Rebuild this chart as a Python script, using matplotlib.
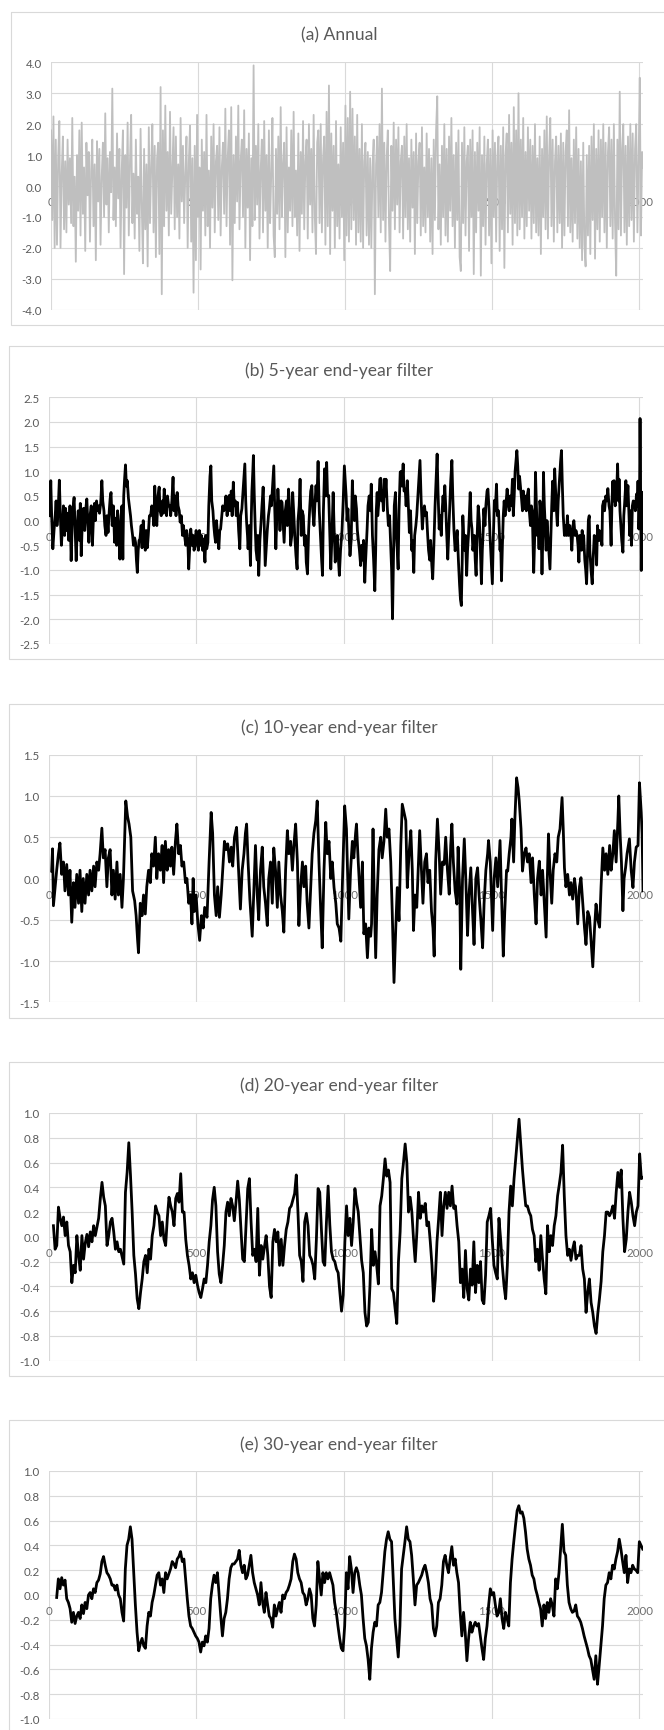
import numpy as np
import matplotlib
matplotlib.use("Agg")
import matplotlib.pyplot as plt
from matplotlib.patches import Rectangle

plt.rcParams['font.family'] = ['Lato', 'DejaVu Sans']

# ---------------- data ----------------
titles = ['(a) Annual', '(b) 5-year end-year filter', '(c) 10-year end-year filter',
          '(d) 20-year end-year filter', '(e) 30-year end-year filter']
x_tick_values = [0, 500, 1000, 1500, 2000]

# (a) annual values, one every 4 years starting at year 1
annual_years = np.arange(1, 2017, 4)
annual_vals = [
 1.8, -1.1, 2.25, -2.0, 1.5, -1.9, 0.9, 2.1, -2.0, 0.4, 1.6, -1.4,
 0.8, -1.5, 1.5, -0.6, 0.9, -1.2, 2.2, -1.3, 0.3, -2.45, 1.0, -0.8,
 1.8, -1.6, 2.05, -0.9, 0.6, -2.1, 1.4, -0.3, 1.1, -1.8, 0.5, 1.5,
 -1.3, 0.7, -2.4, 1.45, -0.5, 1.2, -1.9, 0.3, 1.4, -1.0, 2.35, -0.6,
 0.9, -1.5, 1.1, -0.2, 3.15, -1.1, 0.6, -1.3, 1.7, -0.4, 1.2, -2.0,
 0.5, 1.8, -2.85, 1.0, -0.7, 2.05, -1.6, 0.8, 2.3, -1.2, 0.4, -1.7,
 1.5, -0.9, 0.3, -2.1, 1.85, -0.6, -2.5, 1.2, -1.4, 0.7, -2.6, 1.9,
 -1.2, 0.6, 2.0, -1.5, 1.3, -2.3, 0.9, 1.4, -2.2, 3.2, -3.5, 1.8,
 -1.3, 2.6, -0.8, 1.1, -1.6, 2.4, -0.9, 0.5, 1.9, -1.4, 1.6, -1.0,
 0.7, -1.7, 2.2, -0.5, 1.3, -1.2, 0.4, 1.6, -2.0, 0.8, 1.95, -1.8,
 0.9, -3.45, 1.3, -2.4, 2.3, -1.0, 0.6, -2.7, 1.5, -0.8, 1.1, -1.6,
 2.3, -1.3, 0.5, -2.0, 1.6, -0.7, 2.0, -1.5, 0.8, 1.3, -1.1, 1.9,
 -1.6, 0.6, 1.4, -0.9, 2.5, -1.3, 0.9, 1.8, -1.9, 2.55, -3.05, 1.0,
 -1.2, 1.6, -0.5, 2.6, -1.4, 0.8, 1.5, -1.0, 2.45, -2.0, 1.2, -0.7,
 1.7, -2.4, 0.9, -1.3, 3.9, -1.1, 1.3, -0.6, 2.0, -1.7, 0.5, 1.5,
 -1.5, 2.1, -0.8, 1.0, -2.0, 1.8, -1.2, 0.4, 2.2, -1.6, -2.3, 1.2,
 -0.9, 1.6, -1.4, 2.55, -1.0, 0.7, 1.4, -2.3, 1.9, -1.5, 0.6, -0.8,
 1.8, -1.3, 2.4, -1.0, 0.5, -1.6, 1.7, -2.1, 1.1, -0.9, 2.1, -1.4,
 0.8, 1.5, -1.7, 2.0, -0.6, 1.2, -1.5, 2.3, -1.0, -2.2, 1.4, 1.8,
 -1.2, 2.0, -1.5, 0.9, 1.6, -1.9, 2.4, -1.3, 3.25, -2.2, 1.7, -0.8,
 1.3, -2.0, 2.1, -1.3, 0.7, -1.7, 1.9, -1.0, 1.4, -2.4, 2.6, -1.6,
 2.2, -1.8, 3.05, -1.4, 2.5, -1.1, 1.6, -1.9, 2.3, -1.5, 1.2, -1.8,
 2.0, -2.0, 0.8, 1.4, -1.6, 1.1, -1.9, 0.9, -2.0, 0.6, 1.5, -3.5,
 0.7, 1.6, -1.0, 2.0, -1.5, 3.15, -1.1, 1.4, -1.8, 0.9, 1.8, -1.2,
 -2.75, 1.3, -0.8, 2.05, -1.4, 1.5, -0.6, 1.9, -1.5, 0.8, 1.3, -1.7,
 1.6, -1.0, 2.0, -1.4, 0.9, -1.8, 1.5, -0.7, 1.1, -2.2, 1.7, -1.2,
 0.8, 1.4, -1.6, 1.9, -1.3, 0.6, -1.5, 1.7, -1.0, 1.2, -1.8, 0.9,
 -2.2, 1.5, -1.1, 1.8, 2.9, -1.4, 0.7, -1.9, 1.3, -1.0, 2.0, -1.6,
 1.2, -1.8, 1.6, -0.8, 2.2, -1.3, 1.0, -2.0, 1.4, -1.1, 1.8, -2.3,
 -2.75, 1.4, -1.2, 1.9, -1.6, 0.8, 1.3, -2.1, 1.5, -1.0, 1.8, -2.85,
 1.1, -1.5, 1.4, -0.8, 1.9, -2.9, 1.0, -1.3, 1.6, -1.9, 0.7, 1.5,
 -1.6, 1.2, -2.5, 1.8, -1.0, 1.4, -1.8, 0.9, 1.6, -2.1, 1.3, -1.4,
 1.9, -2.65, 1.0, 1.7, -1.5, 2.3, -0.9, 1.4, -1.9, 2.55, -1.2, 1.8,
 -1.6, 3.0, -1.4, 1.5, -1.0, 2.2, -1.7, 1.1, -1.3, 1.9, -0.8, 1.5,
 -1.7, 1.3, -1.2, 2.0, -1.5, 0.9, -1.6, 1.6, -2.2, 1.2, -1.0, 1.8,
 -1.4, 2.25, -1.7, 1.0, 2.2, -1.3, 1.5, -1.8, 0.8, 1.6, -1.5, 1.3,
 -1.2, 1.7, -2.0, 1.4, -1.6, 1.1, 1.8, -1.3, 2.45, -1.5, 0.9, -1.8,
 1.5, -1.2, 1.9, -1.7, 1.2, -2.0, 0.8, -2.4, 1.4, -1.9, -2.6, 1.0,
 -1.6, 1.3, -2.2, 1.6, -1.1, 2.0, -2.35, 1.2, -1.4, 1.8, -1.8, 1.5,
 -1.0, 2.0, -1.5, 1.4, -2.0, 1.1, 1.9, -1.3, 1.5, -1.7, 2.0, -1.2,
 -2.9, 1.5, -1.4, 3.05, -1.6, 1.2, 2.0, -1.5, 1.3, -1.9, 1.6, -1.3,
 2.0, -1.1, 1.7, -1.8, 1.2, 2.0, -1.5, 0.8, 3.5, -1.6, 1.1, 0.6,
]

# (b) 5-year filter: (year, value)
filter5 = [
 (4,0.10),(7,0.81),(10,0.10),(14,-0.57),(18,-0.20),(22,0.10),(25,0.40),(28,-0.10),(32,0.20),(36,0.82),
 (40,0.00),(43,-0.50),(47,-0.10),(50,0.30),(54,-0.30),(57,0.25),(61,-0.20),(65,0.15),(68,-0.40),(72,0.30),
 (76,-0.81),(80,0.00),(83,0.30),(86,0.47),(90,-0.30),(93,-0.81),(97,-0.10),(100,0.20),(104,-0.40),(107,0.35),
 (110,-0.71),(114,0.00),(118,0.25),(122,-0.20),(125,0.20),(129,0.44),(133,-0.10),(136,-0.44),(140,0.10),(144,0.30),
 (148,-0.50),(152,0.15),(155,0.35),(158,0.00),(162,0.40),(165,0.20),(169,0.30),(172,0.15),(176,0.35),(180,0.81),
 (183,0.40),(187,0.20),(190,-0.10),(194,-0.30),(197,0.10),(201,-0.24),(205,0.20),(208,0.45),(211,0.57),(215,-0.10),
 (219,0.30),(223,-0.44),(226,0.05),(230,-0.50),(233,0.20),(237,-0.20),(241,-0.78),(245,0.10),(248,0.30),(251,-0.78),
 (254,0.50),(257,0.85),(260,1.13),(263,0.70),(266,0.81),(270,0.45),(273,0.30),(277,0.10),(280,-0.10),(284,-0.30),
 (287,-0.50),(291,-0.35),(294,-0.44),(297,-0.80),(300,-1.05),(303,-0.60),(306,-0.40),(309,-0.37),(313,-0.10),(316,-0.55),
 (320,0.00),(323,-0.30),(327,-0.60),(330,-0.20),(334,-0.55),(337,-0.30),(341,0.10),(345,0.10),(349,0.30),(352,0.20),
 (356,-0.10),(359,0.70),(363,0.10),(366,-0.10),(370,0.50),(374,0.68),(377,0.20),(381,0.10),(385,0.40),(388,0.15),
 (391,0.64),(395,0.25),(399,0.10),(402,0.50),(406,0.30),(410,0.30),(413,0.10),(417,0.40),(421,0.88),(424,0.20),
 (428,0.50),(431,0.10),(435,0.57),(438,0.30),(442,0.20),(445,-0.03),(449,0.10),(453,-0.30),(456,-0.10),(460,-0.30),
 (464,-0.50),(467,-0.20),(471,-0.40),(474,-0.98),(477,-0.60),(481,-0.17),(485,-0.50),(489,-0.30),(492,-0.60),(496,-0.51),
 (499,-0.20),(503,-0.37),(507,-0.60),(510,-0.20),(514,-0.50),(517,-0.30),(521,-0.60),(524,-0.37),(529,-0.84),(532,-0.30),
 (535,-0.57),(539,-0.44),(542,0.30),(546,0.90),(549,1.11),(552,0.40),(556,0.20),(559,-0.10),(562,-0.30),(565,-0.44),
 (568,0.00),(572,-0.30),(576,-0.57),(579,-0.20),(582,-0.17),(586,0.10),(589,0.30),(593,0.20),(596,0.24),(600,0.50),
 (604,0.10),(607,0.40),(611,0.51),(614,0.20),(618,0.60),(621,0.10),(625,0.78),(628,0.30),(632,0.40),(635,0.10),
 (639,0.37),(643,-0.20),(647,-0.57),(650,0.10),(654,0.24),(658,0.60),(661,0.90),(664,1.15),(667,0.40),(670,-0.03),
 (673,-0.30),(675,-0.57),(679,-0.10),(683,-0.91),(686,0.10),(688,0.60),(691,1.00),(693,1.32),(696,0.50),(699,-0.10),
 (702,-0.60),(706,-0.80),(708,-0.30),(711,-1.11),(715,-0.40),(719,-0.03),(722,0.30),(726,0.68),(729,0.10),(733,-0.91),
 (737,-0.50),(740,-0.20),(744,0.10),(747,0.24),(751,0.50),(754,0.30),(758,0.70),(762,1.11),(765,0.30),(769,-0.57),
 (772,0.00),(776,0.64),(780,0.20),(783,-0.20),(787,0.40),(790,0.37),(794,-0.10),(797,-0.44),(801,0.20),(805,0.40),
 (808,-0.10),(812,0.64),(816,0.20),(819,-0.50),(823,-0.30),(826,0.57),(830,0.10),(833,-0.30),(837,-0.70),(841,-0.98),
 (844,0.00),(848,0.30),(851,0.84),(855,-0.30),(858,0.20),(862,0.10),(866,-0.50),(869,-0.30),(872,-0.84),(876,-1.08),
 (880,-0.20),(884,0.30),(887,0.60),(891,0.71),(894,0.20),(898,-0.10),(901,0.30),(905,0.71),(908,0.40),(912,1.20),
 (916,0.20),(920,-0.30),(924,-0.80),(927,-1.11),(930,0.20),(934,1.05),(937,0.50),(941,1.18),(944,0.50),(948,0.51),
 (951,-0.10),(955,-0.98),(959,-0.30),(963,0.57),(966,-0.10),(970,-0.84),(973,-0.50),(977,-0.30),(980,-0.70),(984,-1.11),
 (988,-0.60),(993,-0.20),(997,0.40),(1001,1.11),(1004,0.80),(1007,0.50),(1010,0.00),(1013,0.24),(1017,-0.30),(1020,-0.71),
 (1024,-0.40),(1028,0.81),(1031,0.30),(1035,0.00),(1038,0.50),(1042,0.24),(1045,-0.20),(1049,-0.44),(1052,-0.60),(1056,-0.91),
 (1059,-0.50),(1063,-0.80),(1066,-0.40),(1070,-1.25),(1073,-0.80),(1078,-0.17),(1081,0.30),(1085,0.50),(1089,0.20),(1092,0.74),
 (1096,-0.30),(1100,-0.80),(1104,-1.42),(1107,-0.60),(1109,0.20),(1112,0.57),(1114,0.10),(1118,0.40),(1121,0.84),(1124,0.86),
 (1127,0.40),(1130,0.60),(1133,0.20),(1136,0.84),(1139,0.50),(1142,0.84),(1146,0.30),(1150,-0.10),(1154,0.10),(1158,-0.50),
 (1161,-1.00),(1164,-1.99),(1167,-0.80),(1170,0.30),(1174,0.57),(1177,-0.30),(1180,-0.60),(1183,-0.98),(1186,0.20),(1190,0.98),
 (1193,1.00),(1196,0.70),(1200,1.15),(1203,0.60),(1207,0.64),(1210,0.30),(1214,0.81),(1217,0.40),(1221,-0.24),(1225,0.20),
 (1229,-0.60),(1232,-0.40),(1236,-1.05),(1239,-0.30),(1243,-0.10),(1246,0.10),(1250,0.50),(1254,0.90),(1257,1.22),(1261,0.40),
 (1265,-0.17),(1268,0.10),(1272,0.30),(1276,0.10),(1279,0.17),(1283,-0.30),(1286,-0.60),(1290,-0.80),(1293,-0.40),(1297,-0.90),
 (1300,-1.18),(1304,-0.50),(1308,0.30),(1312,0.90),(1315,1.35),(1318,0.60),(1322,-0.17),(1325,0.10),(1329,-0.30),(1332,0.20),
 (1335,0.50),(1338,0.20),(1341,0.71),(1344,0.30),(1347,-0.20),(1351,-0.78),(1354,-0.30),(1358,0.40),(1361,0.80),(1365,1.22),
 (1368,0.50),(1372,-0.20),(1376,-0.61),(1380,-0.40),(1383,-0.20),(1387,-0.80),(1391,-1.30),(1394,-1.60),(1397,-1.72),(1400,-0.80),
 (1402,0.10),(1405,-0.30),(1408,-0.60),(1411,-0.30),(1415,-1.11),(1418,-0.60),(1421,-0.30),(1424,0.10),(1427,0.57),(1430,0.00),
 (1433,-0.17),(1436,-0.60),(1441,-0.30),(1444,-0.80),(1447,-1.11),(1450,-0.40),(1454,0.30),(1458,0.00),(1461,-0.50),(1465,-1.28),
 (1468,-0.60),(1471,-0.20),(1473,0.24),(1477,-0.10),(1480,0.30),(1484,0.60),(1487,0.64),(1491,0.20),(1494,-0.30),(1498,-0.80),
 (1502,-1.28),(1505,-0.40),(1509,0.41),(1512,0.20),(1516,0.74),(1519,0.10),(1523,0.20),(1526,-0.30),(1528,-0.60),(1530,-0.40),
 (1533,-1.22),(1536,-0.50),(1539,0.10),(1542,0.40),(1545,0.10),(1549,0.40),(1552,0.64),(1556,0.30),(1559,0.20),(1562,0.50),
 (1566,0.30),(1570,0.84),(1573,0.10),(1576,0.50),(1579,1.00),(1582,1.20),(1585,1.42),(1588,1.10),(1591,0.64),(1594,0.90),
 (1597,0.71),(1600,0.50),(1604,0.20),(1607,0.60),(1609,0.24),(1613,0.50),(1617,0.20),(1620,0.50),(1624,0.64),(1627,0.20),
 (1631,-0.10),(1634,0.30),(1637,0.20),(1640,-0.50),(1642,-1.05),(1645,-0.40),(1648,0.98),(1651,0.30),(1654,-0.30),(1657,0.00),
 (1660,-0.57),(1663,0.40),(1666,0.20),(1670,-1.08),(1673,-0.30),(1675,0.98),(1678,0.30),(1681,-0.10),(1684,-0.60),(1687,0.00),
 (1691,-0.40),(1694,-0.70),(1697,-0.98),(1700,-0.30),(1703,0.30),(1706,0.80),(1710,0.20),(1713,1.05),(1716,0.60),(1719,0.20),
 (1722,-0.10),(1725,0.40),(1729,0.80),(1733,1.20),(1736,1.42),(1739,0.70),(1742,0.10),(1746,-0.30),(1749,-0.10),(1753,-0.30),
 (1756,0.10),(1760,-0.30),(1764,-0.10),(1768,-0.30),(1771,-0.60),(1775,-0.10),(1778,0.00),(1782,-0.30),(1785,-0.20),(1789,-0.30),
 (1792,-0.50),(1795,-0.84),(1798,-0.30),(1800,-0.40),(1804,-0.60),(1806,-0.20),(1809,-0.50),(1811,-0.30),(1815,-0.80),(1818,-1.00),
 (1821,-1.28),(1824,-0.70),(1827,0.00),(1830,0.10),(1832,-0.60),(1836,-1.00),(1840,-1.28),(1843,-0.80),(1847,-0.30),(1850,-0.50),
 (1852,-0.40),(1855,-0.90),(1858,-0.10),(1861,-0.40),(1864,-0.20),(1866,-0.40),(1870,-0.30),(1873,-0.50),(1875,0.30),(1879,0.40),
 (1882,0.20),(1886,0.50),(1890,0.40),(1893,0.65),(1897,0.30),(1900,0.20),(1904,-0.50),(1907,0.40),(1910,0.80),(1912,0.40),
 (1914,0.81),(1918,0.30),(1920,0.60),(1923,0.60),(1926,1.15),(1929,0.40),(1931,0.84),(1934,0.20),(1936,0.00),(1940,-0.40),
 (1944,-0.64),(1947,0.10),(1950,0.37),(1954,0.81),(1957,0.30),(1961,0.71),(1964,0.20),(1967,-0.30),(1970,0.20),(1973,-0.50),
 (1976,0.30),(1979,0.40),(1983,0.37),(1986,0.20),(1990,0.54),(1993,0.30),(1995,0.80),(1998,-0.17),(2000,0.20),(2002,2.07),
 (2006,-1.01),(2009,0.50),(2012,0.57),
]

# (c) 10-year filter: (year, value)
filter10 = [
 (10,0.09),(13,0.36),(16,-0.33),(27,0.10),(33,0.30),(38,0.43),(44,0.05),(50,0.20),(55,-0.15),(61,0.17),
 (67,-0.20),(72,0.10),(78,-0.53),(84,-0.05),(89,-0.35),(95,0.05),(101,-0.30),(106,0.10),(112,-0.40),(117,0.00),
 (123,-0.30),(129,0.05),(135,-0.20),(140,0.10),(146,-0.15),(152,0.15),(157,-0.10),(163,0.20),(169,0.10),(174,0.30),
 (180,0.61),(185,0.25),(191,0.35),(197,-0.10),(202,0.25),(208,0.35),(214,-0.20),(219,0.10),(225,-0.25),(231,0.20),
 (236,-0.20),(242,0.05),(248,-0.35),(253,0.00),(261,0.94),(267,0.75),(272,0.66),(278,0.50),(284,-0.15),(291,-0.27),
 (296,-0.45),(301,-0.75),(304,-0.90),(310,-0.30),(316,-0.45),(321,-0.20),(327,-0.43),(332,-0.10),(338,0.10),(344,-0.05),
 (349,0.30),(355,0.15),(361,0.50),(366,0.00),(372,0.30),(378,0.10),(384,0.40),(389,-0.05),(395,0.45),(401,0.10),
 (406,0.35),(412,0.15),(417,0.38),(423,0.05),(429,0.45),(434,0.66),(440,0.30),(446,0.40),(451,0.15),(457,0.20),
 (463,-0.05),(468,0.00),(474,-0.30),(480,-0.20),(485,-0.55),(489,0.00),(493,-0.40),(499,-0.20),(505,-0.55),(511,-0.75),
 (517,-0.45),(523,-0.60),(528,-0.35),(536,-0.47),(543,0.20),(550,0.80),(555,0.55),(561,-0.20),(567,-0.45),(572,-0.10),
 (578,-0.47),(584,-0.20),(589,0.10),(595,0.45),(601,0.35),(606,0.42),(612,0.20),(618,0.38),(623,0.15),(629,0.50),
 (636,0.62),(643,0.10),(649,-0.37),(655,0.10),(661,0.30),(666,0.55),(670,0.66),(675,0.20),(681,-0.25),(689,-0.70),
 (695,-0.10),(700,0.40),(706,-0.20),(711,-0.50),(717,0.10),(723,0.38),(728,-0.10),(734,-0.30),(740,-0.57),(745,0.00),
 (751,0.20),(757,-0.30),(762,0.37),(768,0.10),(774,-0.35),(779,0.20),(785,-0.20),(791,-0.40),(796,-0.65),(802,0.10),
 (808,0.58),(813,0.30),(819,0.45),(825,0.10),(830,0.40),(836,0.66),(842,0.20),(847,-0.57),(853,-0.10),(859,0.20),
 (864,-0.10),(870,0.15),(875,-0.30),(881,-0.60),(887,-0.10),(892,0.30),(898,0.55),(904,0.70),(909,0.94),(915,0.20),
 (921,-0.40),(926,-0.84),(932,0.10),(938,0.68),(943,0.30),(949,0.45),(955,0.00),(960,0.20),(966,-0.11),(972,-0.30),
 (977,-0.55),(983,-0.60),(989,-0.76),(994,-0.10),(1002,0.88),
 (1008,0.60),(1016,-0.49),(1022,0.10),(1028,0.45),(1033,0.25),(1039,0.55),(1042,0.66),(1048,0.20),(1056,-0.35),(1062,0.20),
 (1067,-0.67),(1073,-0.55),(1079,-0.96),(1084,-0.60),(1090,-0.70),(1093,-0.55),(1098,0.60),(1102,-0.20),(1107,-0.96),(1112,-0.20),
 (1118,0.35),(1124,0.50),(1129,0.25),(1135,0.45),(1141,0.84),(1146,0.50),(1152,0.60),(1158,0.20),(1163,-0.40),(1169,-1.26),
 (1175,-0.60),(1180,-0.11),(1186,-0.51),(1192,0.40),(1197,0.90),(1203,0.80),(1209,0.70),(1214,-0.11),(1220,0.30),(1226,0.58),
 (1231,0.10),(1235,-0.63),(1240,-0.20),(1246,-0.35),(1252,0.20),(1256,0.58),(1262,0.10),(1267,-0.30),(1273,0.20),(1279,0.30),
 (1284,-0.05),(1290,0.10),(1296,-0.40),(1301,-0.60),(1305,-0.94),(1310,0.20),(1316,0.72),(1322,0.30),(1327,-0.19),(1333,0.20),
 (1339,0.17),(1344,0.50),(1350,0.10),(1356,-0.19),(1361,0.40),(1365,0.66),(1370,0.20),(1376,-0.15),(1382,-0.31),(1386,0.38),
 (1392,-0.20),(1395,-1.10),(1401,0.00),(1407,0.48),(1412,0.00),(1418,-0.69),(1423,-0.20),(1429,0.13),(1435,-0.40),(1440,-0.80),
 (1446,0.00),(1452,0.13),(1457,-0.20),(1463,-0.50),(1469,-0.84),(1474,-0.30),(1480,0.10),(1486,0.30),(1489,0.46),(1495,0.20),
 (1499,-0.20),(1503,-0.63),(1508,0.00),(1514,0.25),(1520,-0.10),(1528,0.46),(1533,-0.20),(1539,-0.94),(1544,-0.40),(1550,0.10),
 (1554,0.09),(1559,0.30),(1565,0.50),(1568,0.72),(1574,0.20),(1578,0.70),(1584,1.22),(1589,1.10),(1593,0.94),(1599,0.60),
 (1604,0.09),(1610,0.30),(1616,0.37),(1621,0.20),(1627,0.30),(1633,-0.05),(1638,0.25),(1644,-0.20),(1650,-0.55),(1655,0.00),
 (1661,0.21),(1667,-0.20),(1672,0.10),(1678,-0.30),(1684,-0.71),(1688,0.00),(1692,0.54),(1697,0.10),(1703,-0.30),(1708,0.10),
 (1714,0.30),(1720,0.20),(1725,0.50),(1731,0.60),(1738,0.98),(1742,0.60),(1746,0.13),(1751,-0.10),(1757,0.05),(1763,-0.20),
 (1768,-0.05),(1774,-0.25),(1780,0.00),(1785,-0.15),(1791,-0.55),(1797,-0.10),(1802,0.01),(1808,-0.30),(1814,-0.60),(1819,-0.80),
 (1825,-0.40),(1831,-0.47),(1836,-0.75),(1842,-1.07),(1848,-0.60),(1853,-0.31),(1859,-0.50),(1865,-0.59),(1870,-0.10),(1876,0.37),
 (1882,0.10),(1887,0.30),(1893,0.05),(1899,0.40),(1904,0.10),(1910,0.30),(1915,0.58),(1921,0.20),(1927,0.70),(1930,1.00),
 (1935,0.50),(1939,0.20),(1944,-0.39),(1948,0.00),(1953,0.13),(1958,0.30),(1966,0.48),(1972,0.10),(1978,-0.11),(1983,0.20),
 (1989,0.38),(1995,0.40),(2000,1.16),(2006,0.80),(2009,0.54),(2012,-0.15),
]

# (d) 20-year filter, evenly spaced samples from year 16 to 2012
filter20_vals = [
 0.09, -0.10, -0.07, 0.24, 0.15, 0.09, 0.16, 0.01, 0.12, -0.07,
 -0.12, -0.37, -0.23, -0.29, 0.01, -0.15, -0.27, 0.01, -0.18, -0.05,
 0.02, -0.08, 0.04, -0.04, 0.09, 0.01, 0.08, 0.15, 0.31, 0.44,
 0.32, 0.25, -0.07, 0.01, 0.12, 0.15, 0.04, -0.10, -0.04, -0.12,
 -0.10, -0.16, -0.22, 0.36, 0.52, 0.76, 0.50, 0.20, -0.15, -0.30,
 -0.50, -0.58, -0.45, -0.34, -0.20, -0.15, -0.29, -0.10, -0.18, 0.01,
 0.09, 0.25, 0.20, 0.17, 0.01, 0.12, -0.02, -0.07, 0.15, 0.32,
 0.25, 0.20, 0.09, 0.31, 0.35, 0.28, 0.51, 0.20, 0.20, -0.02,
 -0.15, -0.23, -0.34, -0.29, -0.37, -0.31, -0.39, -0.45, -0.49, -0.42,
 -0.34, -0.37, -0.23, -0.04, 0.09, 0.30, 0.40, 0.25, -0.12, -0.30,
 -0.37, -0.23, -0.07, 0.20, 0.28, 0.17, 0.31, 0.25, 0.13, 0.28,
 0.45, 0.30, 0.05, -0.18, -0.20, 0.09, 0.39, 0.47, 0.12, -0.15,
 -0.10, -0.20, 0.23, -0.31, -0.07, -0.18, -0.08, 0.01, -0.15, -0.40,
 -0.49, -0.04, 0.06, -0.04, 0.04, -0.23, -0.02, -0.23, -0.07, 0.06,
 0.12, 0.23, 0.25, 0.30, 0.35, 0.50, 0.20, -0.15, -0.20, -0.36,
 0.12, 0.19, 0.09, -0.15, -0.18, -0.23, -0.34, -0.02, 0.39, 0.36,
 0.06, -0.20, -0.23, 0.12, 0.41, 0.10, -0.12, -0.18, -0.20, -0.26,
 -0.29, -0.45, -0.60, -0.47, -0.04,
 0.25, 0.01, 0.15, -0.07, 0.12, 0.39, 0.28, 0.20, 0.01, -0.19,
 -0.29, -0.61, -0.72, -0.69, -0.39, 0.06, -0.23, -0.12, -0.23, -0.38,
 0.25, 0.33, 0.47, 0.63, 0.49, 0.54, 0.44, -0.42, -0.45, -0.58,
 -0.70, -0.20, 0.04, 0.47, 0.60, 0.75, 0.60, 0.20, 0.32, 0.20,
 -0.02, -0.20, 0.04, 0.36, 0.15, 0.25, 0.20, 0.27, 0.09, 0.12,
 -0.04, -0.23, -0.52, -0.34, -0.04, 0.15, 0.36, 0.01, 0.25, 0.36,
 0.23, 0.36, 0.25, 0.41, 0.23, 0.25, 0.09, -0.04, -0.37, -0.26,
 -0.49, -0.11, -0.42, -0.51, -0.26, -0.39, -0.04, -0.45, -0.23, -0.37,
 -0.20, -0.51, -0.54, -0.31, 0.12, 0.17, 0.23, -0.02, -0.23, -0.29,
 -0.34, 0.15, -0.02, -0.23, -0.39, -0.50, -0.23, 0.20, 0.41, 0.25,
 0.47, 0.63, 0.79, 0.95, 0.75, 0.55, 0.39, 0.25, 0.25, 0.20,
 0.17, 0.06, 0.01, -0.20, -0.10, -0.27, 0.01, -0.18, -0.34, -0.46,
 0.09, -0.12, 0.01, -0.07, 0.09, 0.17, 0.33, 0.42, 0.52, 0.74,
 0.33, 0.01, -0.15, -0.10, -0.19, -0.10, -0.04, -0.18, -0.15, -0.15,
 -0.07, -0.26, -0.34, -0.61, -0.45, -0.34, -0.53, -0.61, -0.72, -0.78,
 -0.62, -0.50, -0.36, -0.12, 0.01, 0.20, 0.20, 0.17, 0.20, 0.25,
 0.15, 0.36, 0.52, 0.40, 0.54, 0.15, -0.12, -0.02, 0.20, 0.36,
 0.28, 0.17, 0.09, 0.20, 0.25, 0.67, 0.47, 0.48,
]
filter20_first_year, filter20_last_year = 16, 2012

# (e) 30-year filter, evenly spaced samples from year 27 to 2011
filter30_vals = [
 -0.02, 0.13, 0.05, 0.14, 0.08, 0.12, -0.03, -0.06, -0.11, -0.22,
 -0.14, -0.23, -0.17, -0.14, -0.19, -0.08, -0.15, -0.06, -0.11, 0.00,
 0.02, -0.03, 0.05, 0.02, 0.10, 0.12, 0.17, 0.27, 0.31, 0.24,
 0.18, 0.16, 0.13, 0.08, 0.08, 0.04, 0.08, 0.00, -0.03, -0.14,
 -0.21, 0.21, 0.40, 0.45, 0.55, 0.45, 0.18, -0.08, -0.30, -0.45,
 -0.39, -0.35, -0.41, -0.43, -0.25, -0.14, -0.17, -0.06, 0.00, 0.08,
 0.16, 0.18, 0.08, 0.13, 0.02, 0.18, 0.13, 0.17, 0.21, 0.27,
 0.25, 0.22, 0.29, 0.31, 0.35, 0.27, 0.29, 0.13, -0.03, -0.17,
 -0.25, -0.27, -0.30, -0.33, -0.35, -0.38, -0.46, -0.38, -0.41, -0.33,
 -0.38, -0.27, -0.03, 0.08, 0.16, 0.10, 0.18, 0.00, -0.17, -0.33,
 -0.19, -0.14, -0.03, 0.13, 0.22, 0.25, 0.25, 0.27, 0.29, 0.36,
 0.24, 0.18, 0.24, 0.13, 0.16, 0.24, 0.32, 0.18, 0.10, 0.05,
 0.00, -0.08, 0.10, -0.06, -0.14, 0.02, -0.08, -0.17, -0.19, -0.26,
 -0.08, -0.17, -0.11, -0.06, -0.14, 0.00, -0.03, 0.02, 0.04, 0.08,
 0.13, 0.27, 0.33, 0.29, 0.18, 0.13, 0.10, 0.02, 0.00, -0.08,
 -0.03, 0.05, 0.00, -0.19, -0.25, -0.08, 0.27, 0.13, 0.00, 0.18,
 0.10, 0.18, 0.13, 0.18, 0.13, 0.08, -0.06, -0.14, -0.25, -0.35,
 -0.43, -0.45, -0.25,
 0.18, 0.05, 0.31, 0.21, 0.02, 0.18, 0.22, 0.18, 0.08, 0.00,
 -0.19, -0.35, -0.41, -0.52, -0.68, -0.43, -0.30, -0.22, -0.25, -0.08,
 -0.06, 0.02, 0.18, 0.35, 0.45, 0.51, 0.45, 0.43, 0.13, -0.19,
 -0.35, -0.50, -0.25, 0.21, 0.32, 0.43, 0.55, 0.45, 0.43, 0.32,
 0.13, -0.08, 0.08, 0.10, 0.13, 0.16, 0.21, 0.24, 0.18, 0.10,
 -0.03, -0.08, -0.27, -0.33, -0.25, -0.06, -0.03, 0.08, 0.27, 0.32,
 0.24, 0.18, 0.29, 0.39, 0.24, 0.29, 0.18, 0.10, -0.14, -0.33,
 -0.14, -0.30, -0.53, -0.35, -0.22, -0.30, -0.25, -0.22, -0.25, -0.23,
 -0.33, -0.43, -0.52, -0.35, -0.25, -0.08, 0.05, 0.00, 0.02, -0.08,
 -0.17, -0.14, -0.03, -0.19, -0.27, -0.14, -0.19, -0.25, 0.10, 0.29,
 0.43, 0.56, 0.68, 0.72, 0.66, 0.67, 0.62, 0.51, 0.37, 0.29,
 0.24, 0.16, 0.13, 0.05, 0.00, -0.06, -0.11, -0.25, -0.08, -0.19,
 -0.06, -0.14, -0.03, -0.08, -0.17, 0.13, 0.05, 0.18, 0.37, 0.57,
 0.35, 0.32, 0.08, -0.06, -0.11, -0.14, -0.13, -0.08, -0.17, -0.19,
 -0.22, -0.27, -0.33, -0.38, -0.43, -0.49, -0.52, -0.60, -0.68, -0.49,
 -0.72, -0.57, -0.41, -0.25, -0.03, 0.08, 0.10, 0.18, 0.13, 0.24,
 0.21, 0.29, 0.35, 0.45, 0.37, 0.27, 0.18, 0.32, 0.10, 0.21,
 0.18, 0.24, 0.21, 0.20, 0.18, 0.43, 0.40, 0.37,
]
filter30_first_year, filter30_last_year = 27, 2011

# ---------------- figure ----------------
W, H = 664, 1731
fig = plt.figure(figsize=(W / 100, H / 100), dpi=100)
fig.patch.set_facecolor('white')

GRID = '#d9d9d9'
TXT = '#595959'

b_years, b_vals = zip(*filter5)
c_years, c_vals = zip(*filter10)
d_years = np.linspace(filter20_first_year, filter20_last_year, len(filter20_vals))
e_years = np.linspace(filter30_first_year, filter30_last_year, len(filter30_vals))

series = [
    (annual_years, annual_vals, '#bfbfbf', 1.3),
    (b_years, b_vals, 'black', 2.0),
    (c_years, c_vals, 'black', 2.0),
    (d_years, filter20_vals, 'black', 2.0),
    (e_years, filter30_vals, 'black', 2.0),
]
ylims = [(-4, 4, 1.0), (-2.5, 2.5, 0.5), (-1.5, 1.5, 0.5), (-1.0, 1.0, 0.2), (-1.0, 1.0, 0.2)]

# layout (pixels)
plot_tops = [63.3, 398.3, 755.7, 1114.0, 1472.0]
plot_bots = [310.7, 645.0, 1003.3, 1361.7, 1720.0]
plot_lefts = [50.8, 48.7, 48.7, 48.7, 48.7]
plot_right = 643.0
title_ys = [35.0, 370.7, 727.7, 1086.0, 1444.3]
box_lefts = [10.6, 9.3, 9.3, 9.3, 9.3]
box_tops = [12.7, 346.7, 705.0, 1063.3, 1420.7]
box_bots = [326.0, 660.0, 1019.0, 1376.7, 1740.0]

overlay = fig.add_axes([0, 0, 1, 1])
overlay.set_xlim(0, W)
overlay.set_ylim(H, 0)
overlay.axis('off')
overlay.patch.set_visible(False)
overlay.set_zorder(-1)
for bl, bt, bb in zip(box_lefts, box_tops, box_bots):
    overlay.add_patch(Rectangle((bl, bt), W + 20 - bl, bb - bt, fill=False,
                                edgecolor=GRID, lw=0.8))

for i in range(5):
    L, T, B = plot_lefts[i], plot_tops[i], plot_bots[i]
    ax = fig.add_axes([L / W, 1 - B / H, (plot_right - L) / W, (B - T) / H])
    ax.set_facecolor('none')
    xs, ys, col, lw = series[i]
    ax.plot(xs, ys, color=col, lw=lw, zorder=3, solid_joinstyle='round')
    lo, hi, st = ylims[i]
    ax.set_xlim(0, 2012)
    ax.set_ylim(lo, hi)
    ticks = np.round(np.arange(lo, hi + st / 2, st), 1) + 0.0
    ax.set_yticks(ticks)
    ax.set_yticklabels([f"{t:.1f}" for t in ticks])
    ax.set_xticks(x_tick_values)
    ax.tick_params(axis='x', labelbottom=False, length=0)
    ax.tick_params(axis='y', length=0, pad=6.5, labelsize=8.3, labelcolor=TXT)
    ax.grid(True, color=GRID, lw=0.8)
    ax.set_axisbelow(True)
    for s in ax.spines.values():
        s.set_visible(False)
    for xv in x_tick_values:
        ax.annotate(str(xv), xy=(xv, 0), xytext=(0, -11.5), textcoords='offset points',
                    ha='center', va='center', fontsize=8.3, color='#6e6e6e',
                    zorder=1, annotation_clip=False)
    fig.text(339 / W, 1 - title_ys[i] / H, titles[i], ha='center', va='center',
             fontsize=12.6, color=TXT)

fig.savefig('out.png', dpi=100, facecolor='white')
